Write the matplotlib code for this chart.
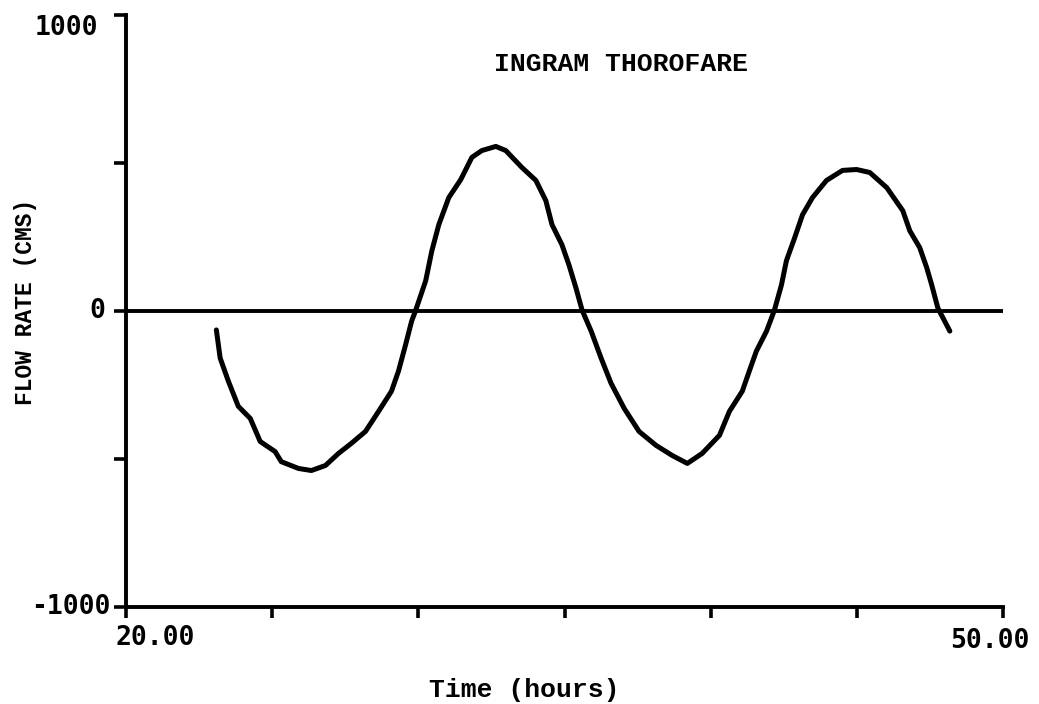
import numpy as np
import matplotlib
matplotlib.use("Agg")
import matplotlib.pyplot as plt

# digitised flow record, Ingram Thorofare
time_h = [23.09, 23.22, 23.5, 23.84, 24.25, 24.59, 25.1, 25.31, 25.9, 26.34,
          26.82, 27.27, 27.71, 28.19, 28.64, 29.08, 29.32, 29.56, 29.77, 29.9,
          30.25, 30.46, 30.7, 31.04, 31.45, 31.83, 32.17, 32.65, 32.99, 33.54,
          34.02, 34.36, 34.57, 34.91, 35.15, 35.39, 35.6, 35.91, 36.25, 36.59,
          37.04, 37.55, 38.13, 38.68, 39.2, 39.71, 40.3, 40.64, 41.08, 41.32,
          41.56, 41.91, 42.18, 42.42, 42.59, 42.87, 43.14, 43.48, 43.96, 44.51,
          44.99, 45.44, 46.02, 46.57, 46.81, 47.15, 47.39, 47.56, 47.77, 48.18]
flow_cms = [-64, -159, -237, -322, -363, -441, -475, -509, -532, -539,
            -522, -481, -447, -407, -339, -271, -203, -115, -34, 0,
            102, 203, 292, 383, 444, 519, 542, 556, 542, 485,
            441, 373, 292, 224, 156, 78, 3, -68, -159, -244,
            -329, -407, -454, -488, -515, -481, -420, -339, -271, -203,
            -136, -68, 3, 88, 170, 247, 325, 383, 441, 475,
            478, 468, 417, 339, 271, 214, 146, 88, 10, -68]

x_ticks = [20, 25, 30, 35, 40, 45, 50]
y_ticks = [-1000, -500, 0, 500, 1000]
x_labels = {20: "20.00", 50: "50.00"}
y_labels = {-1000: "-1000", 0: "0", 1000: "1000"}

mono = ["Liberation Mono", "DejaVu Sans Mono"]
digits = "DejaVu Sans Mono"

fig = plt.figure(figsize=(10.39, 7.04), dpi=100)
ax = fig.add_axes([0.1213, 0.1378, 0.8441, 0.8409])

ax.plot(time_h, flow_cms, color="black", lw=3.6, solid_capstyle="round",
        solid_joinstyle="round")
ax.axhline(0, color="black", lw=2.8, solid_capstyle="round")

ax.set_xlim(20, 50)
ax.set_ylim(-1000, 1000)
for s in ["top", "right"]:
    ax.spines[s].set_visible(False)
for s in ["left", "bottom"]:
    ax.spines[s].set_linewidth(2.8)

ax.set_xticks(x_ticks)
ax.set_xticklabels([])
ax.tick_params(axis="x", length=8, width=2.6, direction="out")
ax.set_yticks(y_ticks)
ax.set_yticklabels([])
ax.tick_params(axis="y", length=9, width=2.6, direction="out")

# tick labels placed by hand, like the original hand-lettered plot
ytr = ax.get_yaxis_transform()
ax.text(-0.032, 1000, y_labels[1000], transform=ytr, ha="right", va="top",
        fontsize=19, fontweight="bold", family=digits)
ax.text(-0.024, 0, y_labels[0], transform=ytr, ha="right", va="center",
        fontsize=19, fontweight="bold", family=digits)
ax.text(-0.018, -1000, y_labels[-1000], transform=ytr, ha="right",
        va="center", fontsize=19, fontweight="bold", family=digits)

ax.text(20.99, -1104, x_labels[20], ha="center", va="center", fontsize=19,
        fontweight="bold", family=digits, clip_on=False)
ax.text(49.56, -1114, x_labels[50], ha="center", va="center", fontsize=19,
        fontweight="bold", family=digits, clip_on=False)

ax.text(36.93, 836, "INGRAM THOROFARE", ha="center", va="center",
        fontsize=19, fontweight="bold", family=mono)
fig.text(0.5043, 0.0199, "Time (hours)", ha="center", va="center",
         fontsize=19, fontweight="bold", family=mono)
fig.text(0.0241, 0.571, "FLOW RATE (CMS)", ha="center", va="center",
         rotation=90, fontsize=16.5, fontweight="bold", family=mono)

fig.savefig("out.png", dpi=100)
